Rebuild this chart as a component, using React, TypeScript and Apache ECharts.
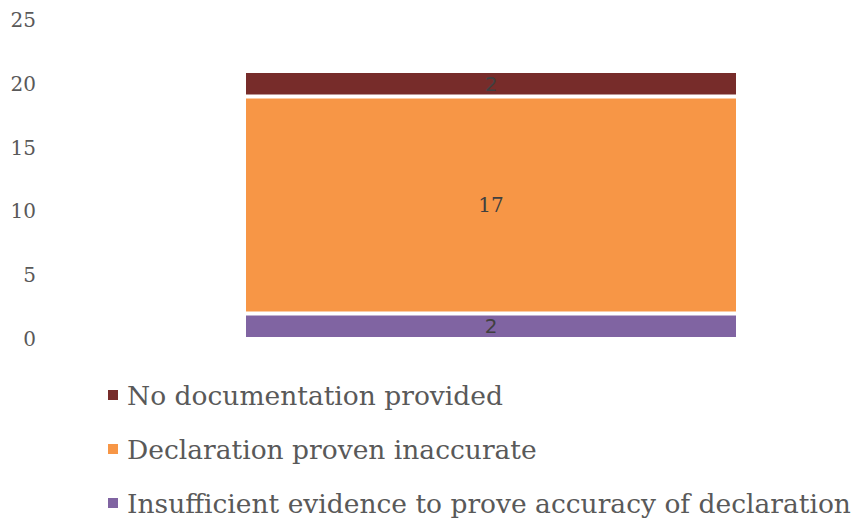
import React, { useEffect, useRef } from "react";
import * as echarts from "echarts";

const categories = ["Total"];
const seriesNames = [
  "Insufficient evidence to prove accuracy of declaration",
  "Declaration proven inaccurate",
  "No documentation provided",
];
const insufficientValues = [2];
const inaccurateValues = [17];
const noDocValues = [2];
const yTicks = { min: 0, max: 25, interval: 5 };

const colors = ["#8064A2", "#F79646", "#772C2A"];
const SERIF = "'DejaVu Serif', 'Liberation Serif', serif";
const SANS = "'DejaVu Sans', sans-serif";

export default function App() {
  const ref = useRef<HTMLDivElement>(null);
  useEffect(() => {
    const chart = echarts.init(ref.current!, null, { renderer: "svg" });
    const mk = (name: string, data: number[], color: string, font: string) => ({
      name,
      type: "bar",
      stack: "s",
      data,
      barWidth: 494,
      itemStyle: { color, borderColor: "#ffffff", borderWidth: 2 },
      label: {
        show: true,
        position: "inside",
        color: "#404040",
        fontFamily: font,
        fontSize: 20,
      },
    });
    chart.setOption({
      animation: false,
      grid: { left: 122, right: 0, top: 20, bottom: 518 - 339 },
      legend: {
        orient: "vertical",
        left: 101,
        top: 376.5,
        height: 200,
        itemWidth: 12,
        itemHeight: 12,
        itemGap: 27,
        icon: "rect",
        data: [seriesNames[2], seriesNames[1], seriesNames[0]],
        textStyle: { fontFamily: SERIF, fontSize: 26.5, color: "#595959", padding: [0, 0, 0, 3] },
      },
      xAxis: {
        type: "category",
        data: categories,
        axisLine: { show: false },
        axisTick: { show: false },
        axisLabel: { show: false },
      },
      yAxis: {
        type: "value",
        min: yTicks.min,
        max: yTicks.max,
        interval: yTicks.interval,
        splitLine: { show: false },
        axisLine: { show: false },
        axisTick: { show: false },
        axisLabel: {
          margin: 86,
          color: "#595959",
          fontFamily: SERIF,
          fontSize: 20,
        },
      },
      series: [
        mk(seriesNames[0], insufficientValues, colors[0], SANS),
        mk(seriesNames[1], inaccurateValues, colors[1], SERIF),
        mk(seriesNames[2], noDocValues, colors[2], SANS),
      ],
    });
    return () => chart.dispose();
  }, []);
  return (
    <div
      ref={ref}
      style={{ position: "absolute", left: 0, top: 0, width: 860, height: 518 }}
    />
  );
}
